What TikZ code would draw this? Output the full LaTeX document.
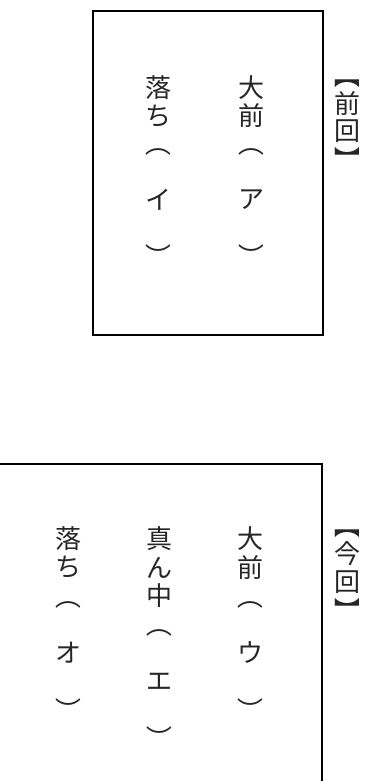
\documentclass[tikz,border=0pt]{standalone}
\usepackage{fontspec}
\newfontfamily\cjk{Noto Sans CJK JP}
\tikzset{
  ch/.style={font=\cjk\fontsize{26}{26}\selectfont, inner sep=0pt, text=black!85},
  vbr/.style={ch, rotate=-90},
  frame/.style={draw=black, line width=1.6pt}
}
\begin{document}
\begin{tikzpicture}[x=1pt,y=-1pt]
\useasboundingbox (0,0) rectangle (372,781);
\clip (0,0) rectangle (372,781);
% box 1
\node[frame, minimum width=230pt, minimum height=324pt, anchor=north west, inner sep=0pt] (box1) at (92,10) {};
% column 1a
\node[ch] (a1) at (251,88) {大};
\node[ch] (a2) at (251,116) {前};
\node[vbr] (a3) at (251,144) {（};
\node[ch] (a4) at (251,200) {ア};
\node[vbr] (a5) at (251,256) {）};
% column 1b
\node[ch] (b1) at (158,88) {落};
\node[ch] (b2) at (158,116) {ち};
\node[vbr] (b3) at (158,144) {（};
\node[ch] (b4) at (158,200) {イ};
\node[vbr] (b5) at (158,256) {）};
% label 1
\node[vbr] (l1) at (347,75.5) {【};
\node[ch] (l2) at (347,103.5) {前};
\node[ch] (l3) at (347,131.5) {回};
\node[vbr] (l4) at (347,159.5) {】};
% box 2
\node[frame, minimum width=343pt, minimum height=360pt, anchor=north east, inner sep=0pt] (box2) at (323,463) {};
% column 2a
\node[ch] (c1) at (250,539) {大};
\node[ch] (c2) at (250,567.5) {前};
\node[vbr] (c3) at (250,596) {（};
\node[ch] (c4) at (250,653) {ウ};
\node[vbr] (c5) at (250,710) {）};
% column 2b
\node[ch] (d1) at (159,539) {真};
\node[ch] (d2) at (159,567.5) {ん};
\node[ch] (d3) at (159,596) {中};
\node[vbr] (d4) at (159,624.5) {（};
\node[ch] (d5) at (159,681.5) {エ};
\node[vbr] (d6) at (159,738.5) {）};
% column 2c
\node[ch] (e1) at (68,539) {落};
\node[ch] (e2) at (68,567.5) {ち};
\node[vbr] (e3) at (68,596) {（};
\node[ch] (e4) at (68,653) {オ};
\node[vbr] (e5) at (68,710) {）};
% label 2
\node[vbr] (m1) at (347,525) {【};
\node[ch] (m2) at (347,553.5) {今};
\node[ch] (m3) at (347,582) {回};
\node[vbr] (m4) at (347,610) {】};
\end{tikzpicture}
\end{document}
